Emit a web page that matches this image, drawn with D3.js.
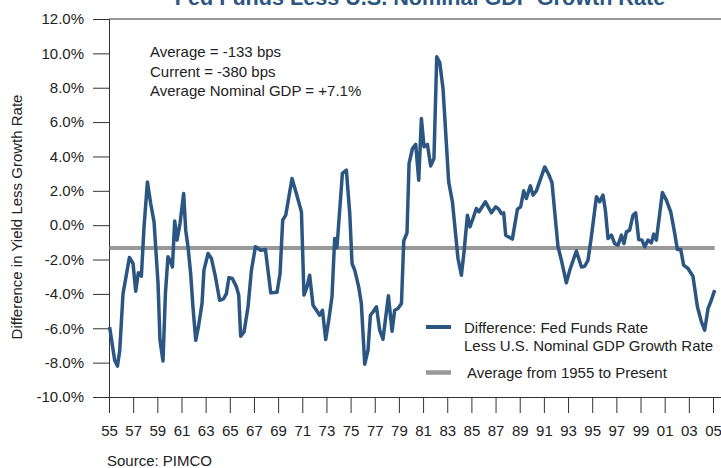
<!DOCTYPE html>
<html>
<head>
<meta charset="utf-8">
<script src="https://cdn.jsdelivr.net/npm/d3@7"></script>
<style>
  html, body { margin: 0; padding: 0; background: #fff; }
  svg { display: block; font-family: "Liberation Sans", Arial, Helvetica, sans-serif; }
</style>
</head>
<body>
<svg id="chart" width="721" height="468"></svg>
<script>
// ---- data ----
const years = [
  1955.05, 1955.47, 1955.70, 1955.89, 1956.16, 1956.36, 1956.69, 1956.99, 1957.21, 1957.43,
  1957.68, 1957.90, 1958.18, 1958.45, 1958.73, 1959.06, 1959.22, 1959.47, 1959.67, 1959.88,
  1960.05, 1960.25, 1960.44, 1960.63, 1960.88, 1961.18, 1961.35, 1961.54, 1961.76, 1961.95,
  1962.18, 1962.40, 1962.70, 1962.86, 1963.20, 1963.48, 1963.81, 1964.16, 1964.50, 1964.72,
  1964.93, 1965.21, 1965.55, 1965.74, 1965.90, 1966.18, 1966.51, 1966.79, 1967.12, 1967.55,
  1967.95, 1968.16, 1968.39, 1968.91, 1969.16, 1969.38, 1969.63, 1970.15, 1970.51, 1970.93,
  1971.14, 1971.39, 1971.61, 1971.89, 1972.17, 1972.44, 1972.67, 1972.94, 1973.19, 1973.46,
  1973.68, 1973.87, 1974.32, 1974.65, 1974.93, 1975.12, 1975.34, 1975.67, 1975.89, 1976.17,
  1976.44, 1976.64, 1976.85, 1977.14, 1977.41, 1977.68, 1978.13, 1978.43, 1978.65, 1978.92,
  1979.21, 1979.40, 1979.67, 1979.84, 1980.12, 1980.39, 1980.64, 1980.86, 1981.08, 1981.36,
  1981.63, 1981.90, 1982.13, 1982.38, 1982.65, 1983.12, 1983.43, 1983.89, 1984.17, 1984.39,
  1984.67, 1984.88, 1985.13, 1985.41, 1985.63, 1986.16, 1986.66, 1987.01, 1987.26, 1987.48,
  1987.67, 1987.84, 1988.39, 1988.81, 1989.08, 1989.33, 1989.55, 1989.88, 1990.10, 1990.38,
  1991.07, 1991.40, 1991.67, 1992.17, 1992.45, 1992.86, 1993.14, 1993.69, 1994.11, 1994.38,
  1994.65, 1994.93, 1995.35, 1995.62, 1995.89, 1996.09, 1996.31, 1996.59, 1996.86, 1997.14,
  1997.42, 1997.63, 1997.83, 1998.10, 1998.38, 1998.60, 1998.85, 1999.12, 1999.35, 1999.62,
  1999.90, 2000.09, 2000.31, 2000.81, 2001.14, 2001.50, 2001.83, 2002.05, 2002.33, 2002.57,
  2002.93, 2003.34, 2003.71, 2004.04, 2004.31, 2004.59, 2004.81, 2005.14
];
const difference = [
  -5.92, -7.86, -8.20, -7.28, -3.98, -3.20, -1.88, -2.23, -3.84, -2.77,
  -2.97, -0.10, 2.52, 1.26, 0.19, -3.40, -6.70, -7.90, -3.98, -1.84,
  -2.04, -2.43, 0.25, -0.87, 0.10, 1.84, -0.29, -1.26, -2.81, -4.75,
  -6.70, -5.92, -4.56, -2.62, -1.65, -1.94, -3.00, -4.37, -4.27, -3.98,
  -3.05, -3.10, -3.59, -4.07, -6.46, -6.21, -4.75, -2.62, -1.26, -1.46,
  -1.42, -2.62, -3.94, -3.90, -2.81, 0.29, 0.58, 2.72, 1.84, 0.78,
  -4.07, -3.59, -2.91, -4.66, -4.95, -5.24, -4.95, -6.65, -5.53, -4.17,
  -0.78, -1.30, 3.01, 3.20, 0.68, -2.23, -2.62, -3.59, -4.56, -8.09,
  -7.28, -5.24, -5.05, -4.75, -6.11, -6.64, -4.11, -6.17, -4.95, -4.85,
  -4.56, -0.92, -0.44, 3.59, 4.46, 4.70, 2.62, 6.21, 4.56, 4.70,
  3.45, 3.88, 9.80, 9.47, 7.96, 2.52, 1.36, -1.94, -2.91, -1.55,
  0.58, -0.10, 0.39, 0.97, 0.78, 1.36, 0.72, 1.07, 0.93, 0.68,
  0.72, -0.58, -0.81, 0.93, 1.07, 2.00, 1.55, 2.29, 1.75, 2.00,
  3.39, 2.95, 2.48, -1.26, -2.04, -3.36, -2.62, -1.50, -2.43, -2.39,
  -2.04, -0.68, 1.65, 1.36, 1.75, 0.87, -0.78, -0.58, -1.07, -1.16,
  -0.58, -1.07, -0.39, -0.29, 0.58, 0.72, -0.83, -0.87, -1.26, -0.87,
  -1.03, -0.52, -0.87, 1.90, 1.46, 0.78, -0.48, -1.42, -1.42, -2.33,
  -2.52, -2.97, -4.75, -5.63, -6.11, -4.85, -4.46, -3.78
];
const averageSince1955 = -1.33;
const yTickValues = [12, 10, 8, 6, 4, 2, 0, -2, -4, -6, -8, -10];
const xTickYears = [1955, 1957, 1959, 1961, 1963, 1965, 1967, 1969, 1971, 1973, 1975, 1977, 1979,
                    1981, 1983, 1985, 1987, 1989, 1991, 1993, 1995, 1997, 1999, 2001, 2003, 2005];
const xTickLabels = ["55","57","59","61","63","65","67","69","71","73","75","77","79",
                     "81","83","85","87","89","91","93","95","97","99","01","03","05"];
const titleText = "Fed Funds Less U.S. Nominal GDP Growth Rate";
const notes = ["Average = -133 bps", "Current = -380 bps", "Average Nominal GDP = +7.1%"];
const legendLabels = [["Difference: Fed Funds Rate", "Less U.S. Nominal GDP Growth Rate"],
                      ["Average from 1955 to Present"]];

// ---- drawing ----
const svg = d3.select("#chart");
const blue = "#2b5682";
const grey = "#999999";
const axisColor = "#333333";
const textColor = "#222222";

const x0 = 109, yTop = 19, yBottom = 397;
const x = d3.scaleLinear().domain([1955, 2006]).range([x0, x0 + 51 * 12.08]);
const y = d3.scaleLinear().domain([-10, 12]).range([yBottom, yTop]);

// title (partially cut off at top, as in the reference)
svg.append("text")
  .attr("x", 420).attr("y", 5)
  .attr("text-anchor", "middle")
  .attr("font-size", 21.6).attr("font-weight", "bold")
  .attr("fill", blue)
  .text(titleText);

// top border
svg.append("line")
  .attr("x1", x0).attr("x2", 721)
  .attr("y1", y(12)).attr("y2", y(12))
  .attr("stroke", axisColor).attr("stroke-width", 1);

// y axis
const pct = d => (d < 0 ? "-" : "") + Math.abs(d).toFixed(1) + "%";
const yAxis = d3.axisLeft(y).tickValues(yTickValues)
  .tickFormat(pct)
  .tickSize(16).tickPadding(9);
const gy = svg.append("g").attr("transform", `translate(${x0},0)`).call(yAxis);
gy.select(".domain").attr("stroke", axisColor);
gy.selectAll(".tick line").attr("stroke", axisColor);
gy.selectAll(".tick text").attr("font-size", 15).attr("fill", textColor)
  .attr("font-family", "'Liberation Sans', Arial, sans-serif");

// x axis
const xAxis = d3.axisBottom(x).tickValues(xTickYears)
  .tickFormat((d, i) => xTickLabels[i])
  .tickSize(16).tickPadding(12).tickSizeOuter(0);
const gx = svg.append("g").attr("transform", `translate(0,${yBottom})`).call(xAxis);
gx.select(".domain").attr("stroke", axisColor).attr("d", `M${x0},0.5H721`);
gx.selectAll(".tick line").attr("stroke", axisColor);
gx.selectAll(".tick text").attr("font-size", 15).attr("fill", textColor)
  .attr("font-family", "'Liberation Sans', Arial, sans-serif");

// average line
svg.append("line")
  .attr("x1", x(1955.05)).attr("x2", x(2005.14))
  .attr("y1", y(averageSince1955)).attr("y2", y(averageSince1955))
  .attr("stroke", grey).attr("stroke-width", 4);

// difference line
const data = years.map((yr, i) => ({ yr, v: difference[i] }));
svg.append("path")
  .datum(data)
  .attr("fill", "none")
  .attr("stroke", blue)
  .attr("stroke-width", 3.5)
  .attr("stroke-linejoin", "round")
  .attr("d", d3.line().x(d => x(d.yr)).y(d => y(d.v)));

// annotation
svg.append("g").selectAll("text").data(notes).join("text")
  .attr("x", 150).attr("y", (d, i) => 57 + i * 19.5)
  .attr("font-size", 15).attr("fill", textColor)
  .text(d => d);

// y-axis title
svg.append("text")
  .attr("transform", "translate(22,217) rotate(-90)")
  .attr("text-anchor", "middle")
  .attr("font-size", 15).attr("fill", textColor)
  .text("Difference in Yield Less Growth Rate");

// legend
const lg = svg.append("g");
lg.append("line").attr("x1", 426).attr("x2", 451).attr("y1", 327).attr("y2", 327)
  .attr("stroke", blue).attr("stroke-width", 4);
lg.append("text").attr("x", 464).attr("y", 333).attr("font-size", 15).attr("fill", textColor)
  .text(legendLabels[0][0]);
lg.append("text").attr("x", 464).attr("y", 351).attr("font-size", 15).attr("fill", textColor)
  .text(legendLabels[0][1]);
lg.append("line").attr("x1", 426).attr("x2", 451).attr("y1", 372.5).attr("y2", 372.5)
  .attr("stroke", grey).attr("stroke-width", 4.5);
lg.append("text").attr("x", 467).attr("y", 378).attr("font-size", 15).attr("fill", textColor)
  .text(legendLabels[1][0]);

// source
svg.append("text").attr("x", 107).attr("y", 466)
  .attr("font-size", 15).attr("fill", textColor)
  .text("Source: PIMCO");
</script>
</body>
</html>
